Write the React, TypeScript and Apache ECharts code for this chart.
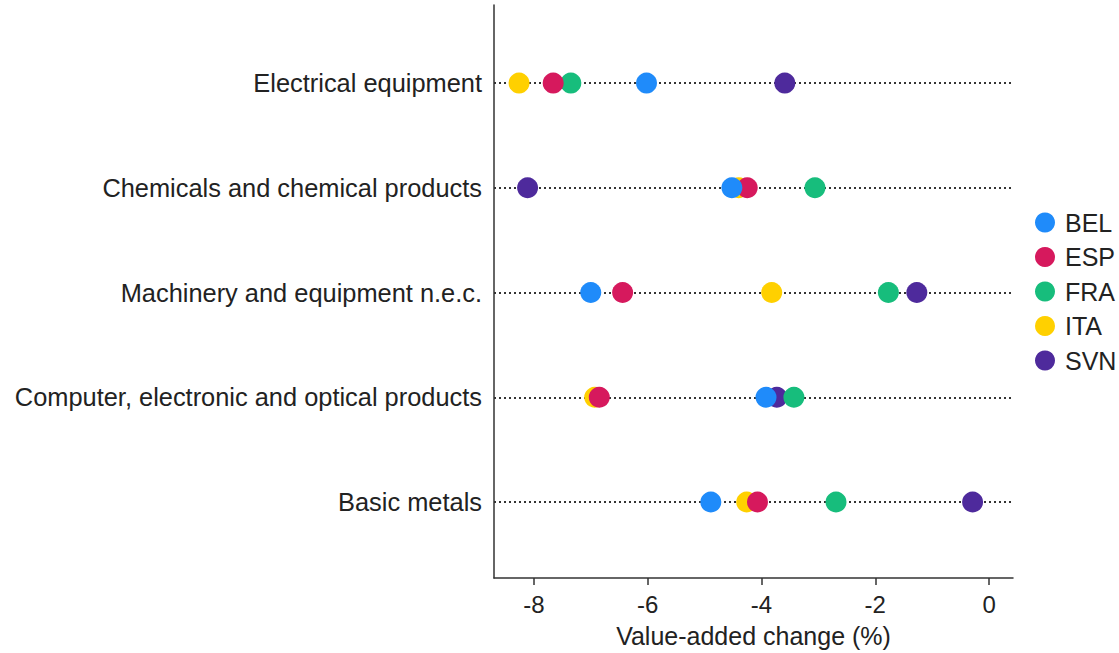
import React, { useEffect, useRef } from "react";
import * as echarts from "echarts";

// Industries, listed from top to bottom of the chart
const categories = [
  "Electrical equipment",
  "Chemicals and chemical products",
  "Machinery and equipment n.e.c.",
  "Computer, electronic and optical products",
  "Basic metals",
];

const countries = ["BEL", "ESP", "FRA", "ITA", "SVN"];

// Value-added change (%) per industry, same order as categories
const bel = [-6.02, -4.52, -7.0, -3.92, -4.89];
const esp = [-7.66, -4.25, -6.44, -6.85, -4.07];
const fra = [-7.35, -3.06, -1.77, -3.43, -2.69];
const ita = [-8.26, -4.4, -3.82, -6.93, -4.26];
const svn = [-3.59, -8.11, -1.27, -3.73, -0.29];

const xTicks = [-8, -6, -4, -2, 0];

const colors: Record<string, string> = {
  BEL: "#1f8bfa",
  ESP: "#d6195d",
  FRA: "#17bd7c",
  ITA: "#ffd000",
  SVN: "#4e2a9c",
};

const valuesByCountry: Record<string, number[]> = {
  BEL: bel,
  ESP: esp,
  FRA: fra,
  ITA: ita,
  SVN: svn,
};

const FONT = "'Liberation Sans', Arial, Helvetica, sans-serif";

export default function App() {
  const ref = useRef<HTMLDivElement>(null);

  useEffect(() => {
    if (!ref.current) return;
    const chart = echarts.init(ref.current, undefined, { renderer: "svg" });
    const n = categories.length;
    const yOf = (i: number) => n - 1 - i;

    const scatterSeries = countries.map((c, ci) => ({
      name: c,
      type: "scatter" as const,
      symbol: "circle",
      symbolSize: 21,
      z: 10 - ci,
      itemStyle: { color: colors[c], opacity: 1 },
      emphasis: { disabled: true },
      data: valuesByCountry[c].map((v, i) => [v, yOf(i)]),
    }));

    chart.setOption({
      animation: false,
      textStyle: { fontFamily: FONT },
      grid: { left: 494, right: 106, top: 5, bottom: 75, containLabel: false },
      legend: {
        data: countries,
        orient: "vertical",
        left: 1030,
        top: 205,
        icon: "circle",
        itemWidth: 20,
        itemHeight: 20,
        itemGap: 9.5,
        textStyle: { fontSize: 25, color: "#222", fontFamily: FONT, padding: [0, 0, 0, 5] },
      },
      xAxis: {
        type: "value",
        min: -8.7,
        max: 0.42,
        name: "Value-added change (%)",
        nameLocation: "middle",
        nameGap: 45,
        nameTextStyle: { fontSize: 25, color: "#222", fontFamily: FONT },
        axisLine: { show: true, onZero: false, lineStyle: { color: "#333", width: 1.5 } },
        axisTick: { show: true, length: 7, customValues: xTicks, lineStyle: { color: "#333", width: 1.5 } },
        axisLabel: {
          customValues: xTicks,
          fontSize: 24,
          color: "#222",
          margin: 14,
          fontFamily: FONT,
        },
        splitLine: { show: false },
      },
      yAxis: {
        type: "value",
        min: -0.7256,
        max: 4.745,
        axisLine: { show: true, onZero: false, lineStyle: { color: "#333", width: 1.5 } },
        axisTick: { show: false },
        axisLabel: {
          customValues: categories.map((_, i) => yOf(i)),
          formatter: (v: number) => categories[n - 1 - Math.round(v)] ?? "",
          fontSize: 25.4,
          color: "#222",
          margin: 12,
          fontFamily: FONT,
        },
        splitLine: { show: false },
      },
      series: [
        {
          type: "line",
          data: [],
          z: 1,
          silent: true,
          markLine: {
            silent: true,
            symbol: "none",
            label: { show: false },
            lineStyle: { color: "#333", type: [2, 3], width: 2 },
            emphasis: { disabled: true },
            data: categories.map((_, i) => ({ yAxis: yOf(i) })),
          },
        },
        ...scatterSeries,
      ],
    });

    return () => chart.dispose();
  }, []);

  return (
    <div
      ref={ref}
      style={{ position: "fixed", left: 0, top: 0, width: 1119, height: 653, background: "#fff" }}
    />
  );
}
